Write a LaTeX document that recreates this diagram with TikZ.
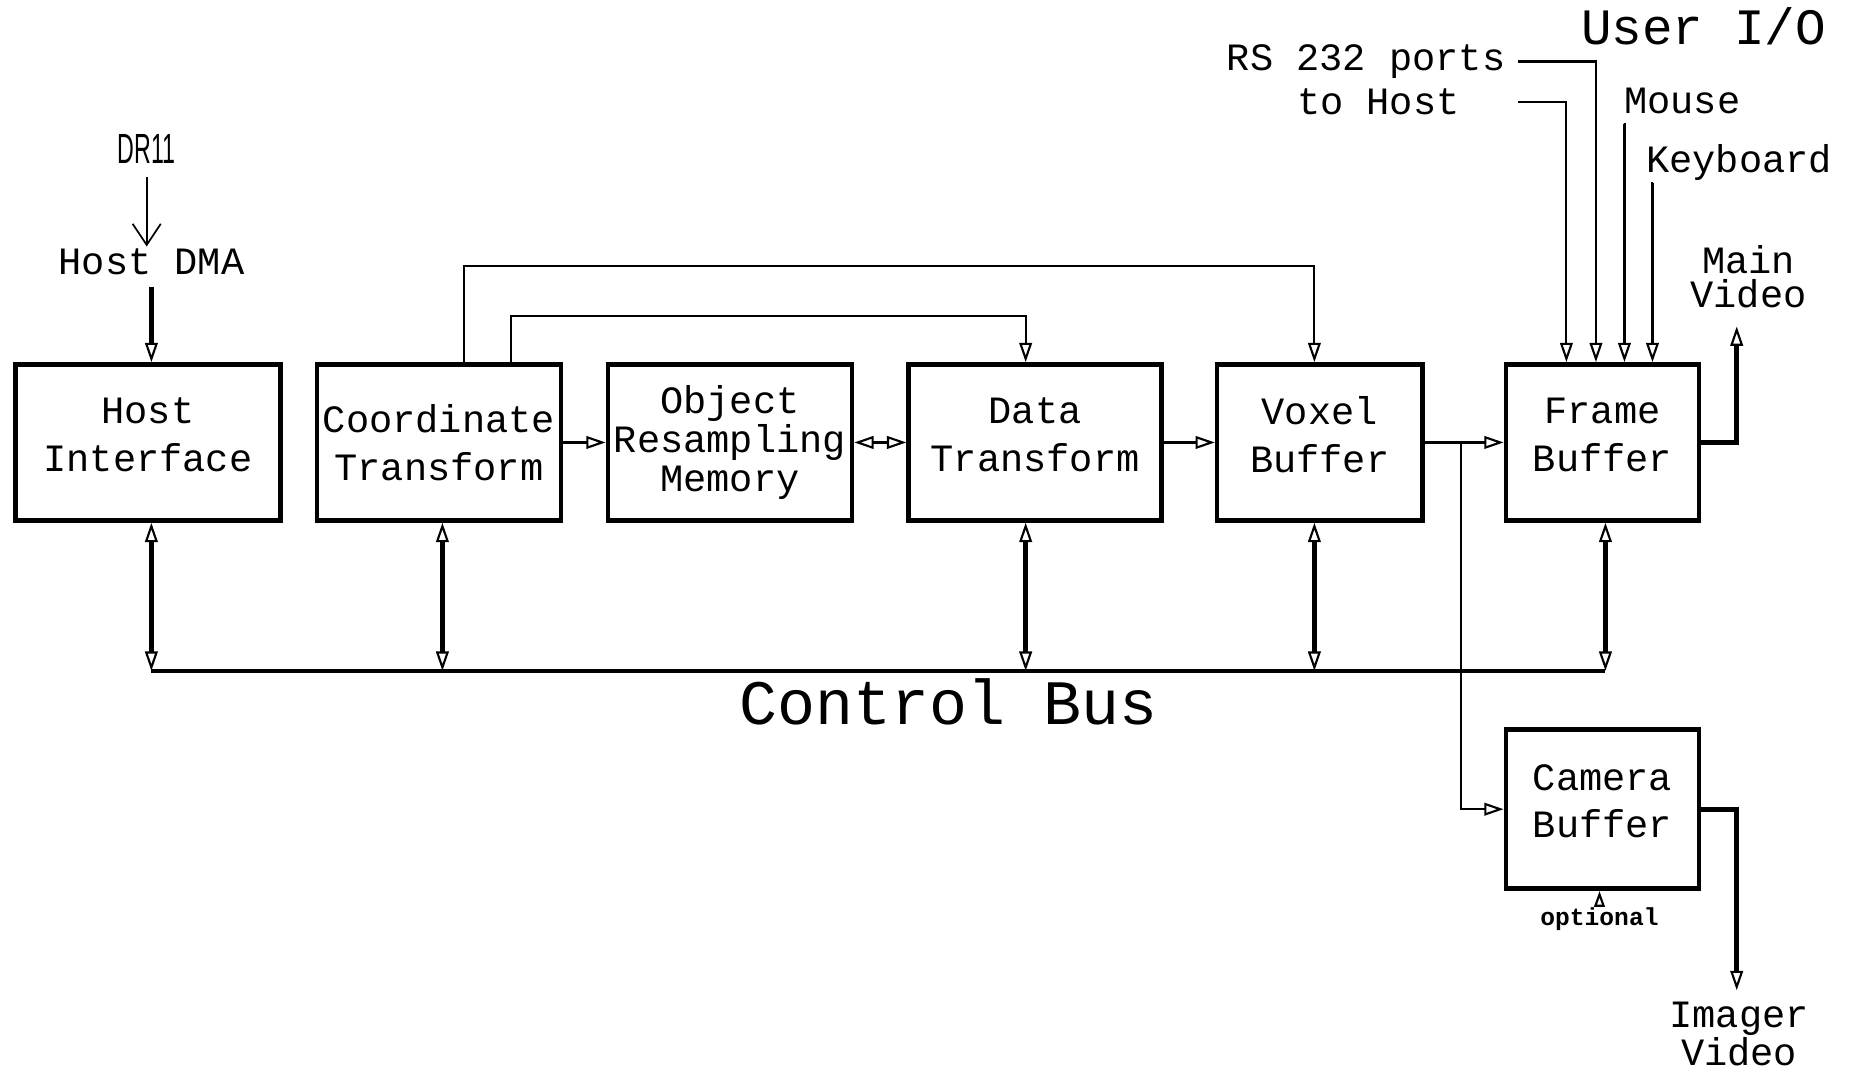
\documentclass[tikz,border=0pt]{standalone}
\usepackage{fontspec}
\usepackage{graphicx}
\setmainfont{Liberation Mono}
\newfontfamily\handfont{Liberation Sans}
\usetikzlibrary{arrows.meta,positioning,calc}
\newcommand\boxfont{\fontsize{11}{13.5}\selectfont}

\begin{document}
\begin{tikzpicture}[x=0.01183cm,y=-0.01183cm,
    >={Triangle[open,length=5.5pt,width=3.6pt,line width=0.6pt]},
    blk/.style={draw,line width=1.3pt,align=center,inner sep=0pt,
      font=\boxfont,minimum height=1.56cm},
    up/.style={text depth=4.5pt},
    flow/.style={line width=0.6pt,->},
    bflow/.style={line width=0.6pt,<->},
    busarrow/.style={line width=1.3pt,<->},
    thickflow/.style={line width=1.4pt,->},
    lbl/.style={font=\boxfont,align=center}]
  \useasboundingbox (0,0) rectangle (1568,910);
  % blocks
  \node[blk,up,minimum width=2.65cm] (host)  at (125,374)    {Host\\Interface};
  \node[blk,minimum width=2.44cm] (coord) at (371,374)    {Coordinate\\Transform};
  \node[blk,minimum width=2.44cm,font=\fontsize{11}{11}\selectfont] (orm) at (617,374) {Object\\Resampling\\Memory};
  \node[blk,up,minimum width=2.53cm] (data)  at (875,374)    {Data\\Transform};
  \node[blk,up,minimum width=2.05cm] (voxel) at (1115.5,374) {Voxel\\Buffer};
  \node[blk,up,minimum width=1.93cm] (frame) at (1354.5,374) {Frame\\Buffer};
  \node[blk,up,minimum width=1.93cm,minimum height=1.59cm] (camera) at (1354.5,684) {Camera\\Buffer};
  % control bus
  \coordinate (busL) at (128,567);
  \coordinate (busR) at (1357,567);
  \draw[line width=1.3pt] (busL) -- (busR);
  \foreach \b/\dx in {host/0.035,coord/0.035,data/-0.095,voxel/-0.053,frame/0.03}
    \draw[busarrow] ([xshift=\dx cm]\b.south) -- ([xshift=\dx cm]\b.south |- busL);
  \node[font=\fontsize{18}{18}\selectfont] (cbus) at (802,593) {Control Bus};
  % data path
  \draw[flow] (coord.east) -- (orm.west);
  \draw[bflow] (orm.east) -- (data.west);
  \draw[flow] (data.east) -- (voxel.west);
  \draw[flow] (voxel.east) -- (frame.west);
  \coordinate (split) at (1235,374);
  \draw[flow] (split) |- (camera.west);
  \coordinate (loopA) at (392,225);
  \coordinate (loopB) at (432,267);
  \draw[flow] (coord.north -| loopA) -- (loopA) -| ([xshift=-0.053cm]voxel.north);
  \draw[flow] (coord.north -| loopB) -- (loopB) -| ([xshift=-0.095cm]data.north);
  % host side
  \node[lbl] (dma) at (128,221) {Host DMA};
  \draw[thickflow] (dma.south) -- (dma.south |- host.north);
  \node[font=\handfont\fontsize{12}{12}\selectfont,inner sep=1pt] (dr) at (124,126) {\scalebox{0.55}[1]{DR11}};
  \draw[line width=0.5pt,shorten >=-3pt,-{Straight Barb[length=6pt,width=8pt]}] (dr.south) ++(0,8) -- (dr.south |- dma.north);
  % video outputs
  \node[lbl,font=\fontsize{11}{9.5}\selectfont] (mvid) at (1478,234) {Main\\Video};
  \coordinate (mvtip) at (1468,276);
  \draw[thickflow] (frame.east) -| (mvtip);
  \node[lbl,font=\fontsize{11}{11}\selectfont] (ivid) at (1470,874) {Imager\\Video};
  \coordinate (ivtip) at (1468,837);
  \draw[thickflow] (camera.east) -| (ivtip);
  \node[font=\fontsize{7}{7}\selectfont\bfseries,inner sep=0pt] (opt) at (1352,777) {optional};
  \draw[line width=0.6pt,-{Triangle[open,length=4.5pt,width=3pt,line width=0.6pt]}] (opt.north) -- (opt.north |- camera.south);
  % user I/O
  \node[font=\fontsize{14.5}{14.5}\selectfont] (uio) at (1440,22) {User I/O};
  \node[lbl,anchor=east] (rs) at (1283,52) {RS 232 ports};
  \node[lbl] (tohost) at (1165,86) {to Host};
  \node[lbl] (mouse) at (1422,85) {Mouse};
  \node[lbl] (kbd) at (1470,137) {Keyboard};
  \coordinate (thA) at (1283,86);
  \coordinate (msA) at (1373,105);
  \coordinate (kbA) at (1397,155);
  \foreach \src/\dx in {thA/-0.36,rs.east/-0.065,msA/0.22,kbA/0.50}
    \draw[flow] (\src) -| ([xshift=\dx cm]frame.north);
\end{tikzpicture}
\end{document}
